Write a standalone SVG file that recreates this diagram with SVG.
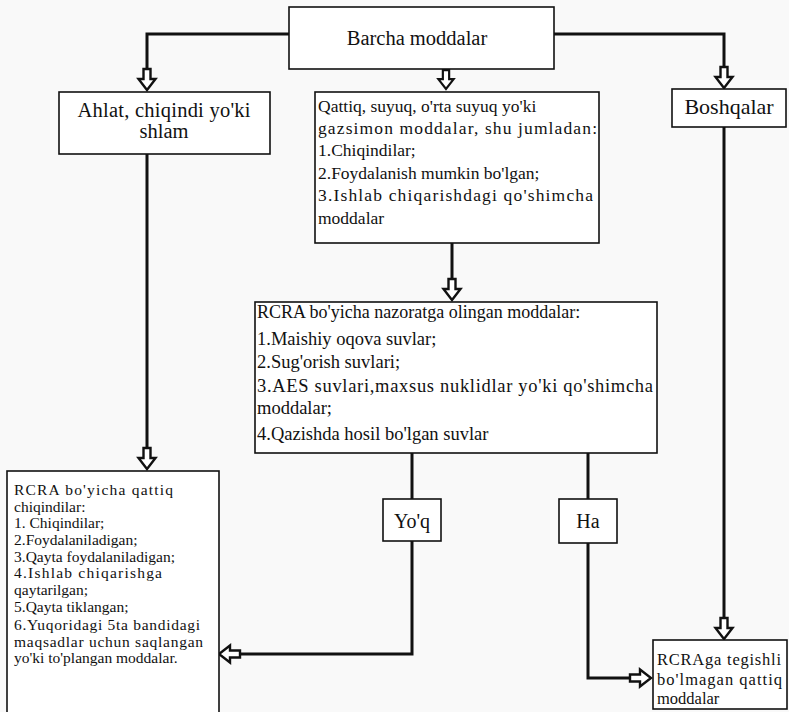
<svg xmlns="http://www.w3.org/2000/svg" width="789" height="712" viewBox="0 0 789 712">
<style>
.box{fill:#fff;stroke:#111;stroke-width:1.6}
.ln{fill:none;stroke:#111;stroke-width:3}
.ar{fill:#fff;stroke:#111;stroke-width:2.4;stroke-linejoin:miter}
.tx{fill:#111}
</style>
<defs>
<path id="arr" class="ar" d="M-3.5,-21 H3.5 V-11 H8.5 L0,0 L-8.5,-11 H-3.5 Z"/>
</defs>
<rect width="789" height="712" fill="#f9f9f9"/>

<g id="connectors">
<path class="ln" d="M289,34 H147 V70"/>
<path class="ln" d="M554,34 H724 V68"/>
<path class="ln" d="M147,154 V448"/>
<path class="ln" d="M452,243 V280"/>
<path class="ln" d="M724,127 V618"/>
<path class="ln" d="M412,453 V499"/>
<path class="ln" d="M412,541 V654 H240"/>
<path class="ln" d="M588,453 V499"/>
<path class="ln" d="M588,543 V678 H630"/>
<use href="#arr" transform="translate(147,90)"/>
<use href="#arr" transform="translate(446,89) scale(0.9)"/>
<use href="#arr" transform="translate(724,88)"/>
<use href="#arr" transform="translate(452,300)"/>
<use href="#arr" transform="translate(147,469)"/>
<use href="#arr" transform="translate(724,639)"/>
<use href="#arr" transform="translate(219,654) rotate(90)"/>
<use href="#arr" transform="translate(651,678) rotate(-90)"/>
</g>

<g font-family="Liberation Serif, Times New Roman, serif" class="tx">
<g id="barcha">
<rect class="box" x="289" y="7" width="265" height="62"/>
<text x="417" y="45" font-size="20.5" text-anchor="middle">Barcha moddalar</text>
</g>

<g id="ahlat">
<rect class="box" x="59" y="92" width="211" height="62"/>
<text x="164" y="117" font-size="20.5" text-anchor="middle" textLength="173" lengthAdjust="spacing">Ahlat, chiqindi yo'ki</text>
<text x="164" y="138" font-size="20.5" text-anchor="middle">shlam</text>
</g>

<g id="qattiq" font-size="17.5">
<rect class="box" x="315" y="92" width="284" height="151"/>
<text x="318" y="112">Qattiq, suyuq, o'rta suyuq yo'ki</text>
<text x="318" y="134" textLength="279" lengthAdjust="spacing">gazsimon moddalar, shu jumladan:</text>
<text x="318" y="156">1.Chiqindilar;</text>
<text x="318" y="179">2.Foydalanish mumkin bo'lgan;</text>
<text x="318" y="201" textLength="275" lengthAdjust="spacing">3.Ishlab chiqarishdagi qo'shimcha</text>
<text x="318" y="224">moddalar</text>
</g>

<g id="boshqalar">
<rect class="box" x="672" y="89" width="114" height="38"/>
<text x="729" y="114" font-size="22" text-anchor="middle">Boshqalar</text>
</g>

<g id="nazorat" font-size="18.5">
<rect class="box" x="255" y="302" width="402" height="151"/>
<text x="257" y="318" font-size="18">RCRA bo'yicha nazoratga olingan moddalar:</text>
<text x="257" y="345">1.Maishiy oqova suvlar;</text>
<text x="257" y="368">2.Sug'orish suvlari;</text>
<text x="257" y="392" textLength="396" lengthAdjust="spacing">3.AES suvlari,maxsus nuklidlar yo'ki qo'shimcha</text>
<text x="257" y="414">moddalar;</text>
<text x="257" y="440">4.Qazishda hosil bo'lgan suvlar</text>
</g>

<g id="yoq">
<rect class="box" x="383" y="499" width="58" height="42"/>
<text x="412" y="528" font-size="20" text-anchor="middle">Yo'q</text>
</g>

<g id="ha">
<rect class="box" x="559" y="499" width="58" height="44"/>
<text x="588" y="528" font-size="20" text-anchor="middle">Ha</text>
</g>

<g id="qattiq-chiqindi" font-size="15.5">
<rect class="box" x="7" y="471" width="212" height="245"/>
<text x="14" y="495" textLength="159" lengthAdjust="spacing">RCRA bo'yicha qattiq</text>
<text x="14" y="512">chiqindilar:</text>
<text x="14" y="528">1. Chiqindilar;</text>
<text x="14" y="545">2.Foydalaniladigan;</text>
<text x="14" y="562">3.Qayta foydalaniladigan;</text>
<text x="14" y="578" textLength="148" lengthAdjust="spacing">4.Ishlab chiqarishga</text>
<text x="14" y="595">qaytarilgan;</text>
<text x="14" y="612">5.Qayta tiklangan;</text>
<text x="14" y="630" textLength="186" lengthAdjust="spacing">6.Yuqoridagi 5ta bandidagi</text>
<text x="14" y="647" textLength="189" lengthAdjust="spacing">maqsadlar uchun saqlangan</text>
<text x="14" y="663">yo'ki to'plangan moddalar.</text>
</g>

<g id="tegishli-emas" font-size="16.5">
<rect class="box" x="653" y="640" width="134" height="69"/>
<text x="657" y="665" textLength="124" lengthAdjust="spacing">RCRAga tegishli</text>
<text x="657" y="685" textLength="125" lengthAdjust="spacing">bo'lmagan qattiq</text>
<text x="657" y="704">moddalar</text>
</g>
</g>
</svg>
